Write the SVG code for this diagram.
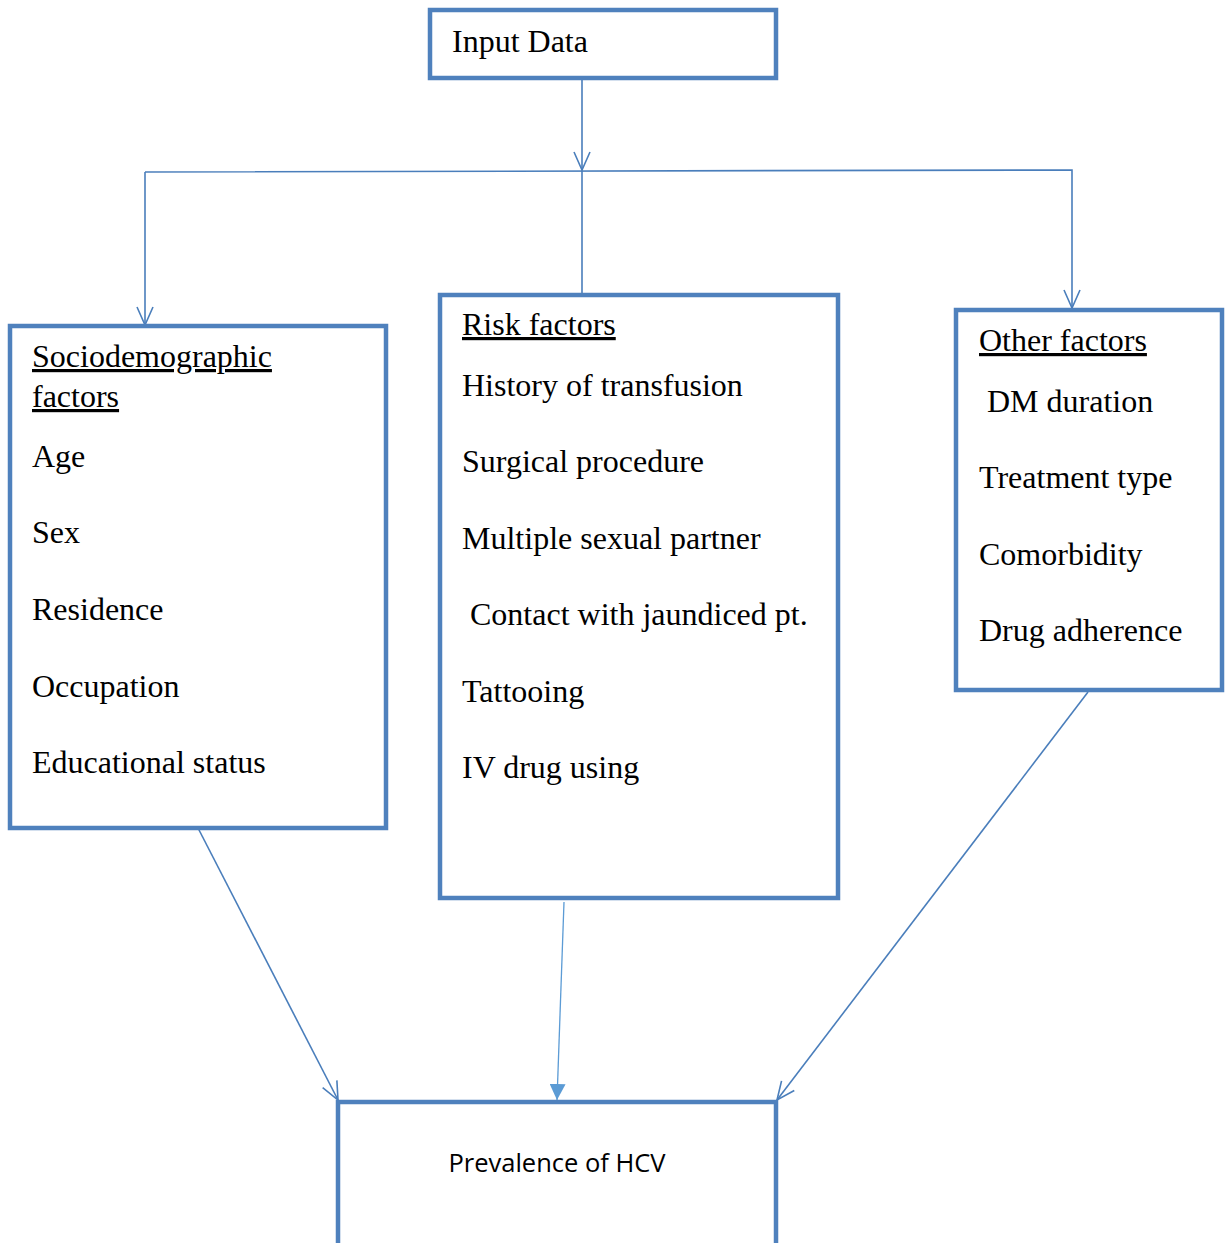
<svg xmlns="http://www.w3.org/2000/svg" width="1225" height="1243" viewBox="0 0 1225 1243">
<style>
.box{fill:#fff;stroke:#4F81BD;stroke-width:4.5}
.t{font-family:"Liberation Serif","Times New Roman",serif;font-size:32px;fill:#000}
.u{text-decoration:underline}
.c{fill:none;stroke:#4A7EBB;stroke-width:1.6}
.s{font-family:"Open Sans","Noto Sans",sans-serif;font-size:25.5px;fill:#000}
</style>
<defs>
<marker id="open" viewBox="0 0 20 20" refX="20" refY="10" markerWidth="20" markerHeight="20" markerUnits="userSpaceOnUse" orient="auto">
<path d="M2,2 L20,10 L2,18" fill="none" stroke="#4A7EBB" stroke-width="1.6"/>
</marker>
<marker id="fill" viewBox="0 0 16 16" refX="16" refY="8" markerWidth="16" markerHeight="16" markerUnits="userSpaceOnUse" orient="auto">
<path d="M0,0 L16,8 L0,16 Z" fill="#5B9BD5"/>
</marker>
</defs>
<g id="connectors">
<line class="c" x1="582" y1="78" x2="582" y2="170" marker-end="url(#open)"/>
<line class="c" x1="582" y1="170" x2="582" y2="295"/>
<polyline class="c" points="145,172 1072,170 1072,308" marker-end="url(#open)"/>
<line class="c" x1="145" y1="172" x2="145" y2="325" marker-end="url(#open)"/>
<line class="c" x1="198" y1="828" x2="338" y2="1100" marker-end="url(#open)"/>
<line x1="564" y1="902" x2="557" y2="1100" stroke="#5B9BD5" stroke-width="1.3" marker-end="url(#fill)"/>
<line class="c" x1="1088" y1="692" x2="777" y2="1100" marker-end="url(#open)"/>
</g>
<g id="input">
<rect class="box" x="430" y="10" width="346" height="68"/>
<text class="t" x="452" y="52">Input Data</text>
</g>
<g id="socio">
<rect class="box" x="10" y="326" width="376" height="502"/>
<text class="t u" x="32" y="367">Sociodemographic</text>
<text class="t u" x="32" y="407">factors</text>
<text class="t" x="32" y="467">Age</text>
<text class="t" x="32" y="543">Sex</text>
<text class="t" x="32" y="620">Residence</text>
<text class="t" x="32" y="697">Occupation</text>
<text class="t" x="32" y="773">Educational status</text>
</g>
<g id="risk">
<rect class="box" x="440" y="295" width="398" height="603"/>
<text class="t u" x="462" y="335">Risk factors</text>
<text class="t" x="462" y="396">History of transfusion</text>
<text class="t" x="462" y="472">Surgical procedure</text>
<text class="t" x="462" y="549">Multiple sexual partner</text>
<text class="t" x="470" y="625">Contact with jaundiced pt.</text>
<text class="t" x="462" y="702">Tattooing</text>
<text class="t" x="462" y="778">IV drug using</text>
</g>
<g id="other">
<rect class="box" x="956" y="310" width="266" height="380"/>
<text class="t u" x="979" y="351">Other factors</text>
<text class="t" x="987" y="412">DM duration</text>
<text class="t" x="979" y="488">Treatment type</text>
<text class="t" x="979" y="565">Comorbidity</text>
<text class="t" x="979" y="641">Drug adherence</text>
</g>
<g id="prevalence">
<rect class="box" x="338" y="1102" width="438" height="160"/>
<text class="s" x="557" y="1172" text-anchor="middle">Prevalence of HCV</text>
</g>
</svg>
